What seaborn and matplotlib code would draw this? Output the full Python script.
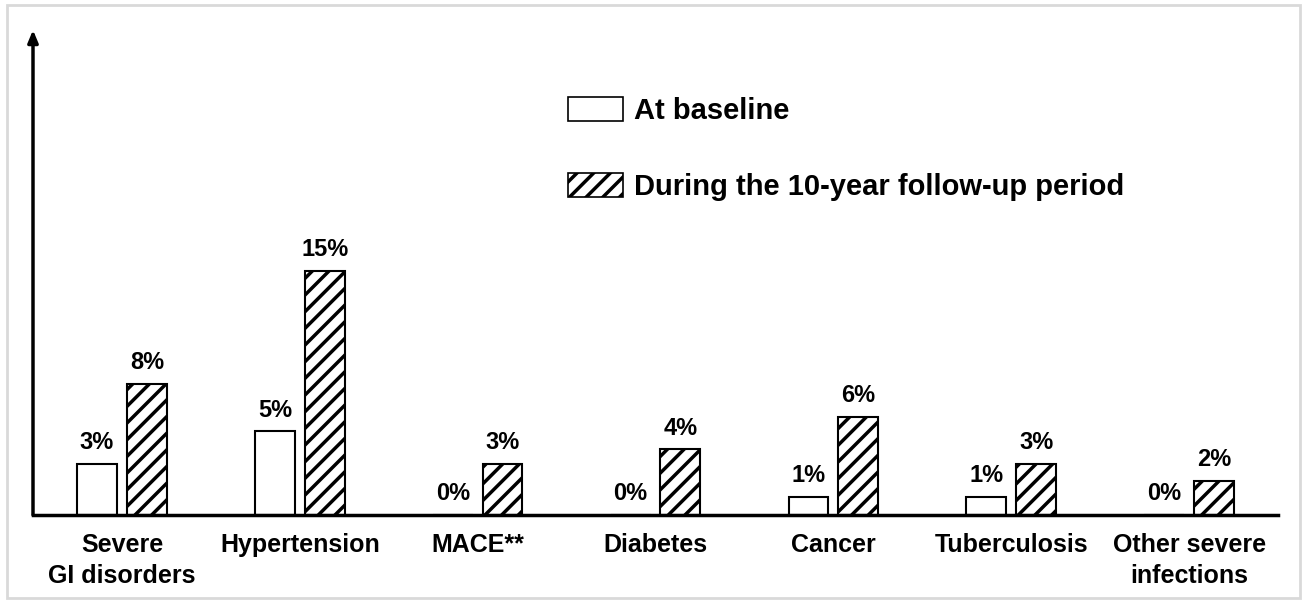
import matplotlib
matplotlib.use("Agg")
import matplotlib.pyplot as plt
from matplotlib.patches import Patch, Rectangle
import pandas as pd
import seaborn as sns


CATEGORIES = [
    "Severe\nGI disorders",
    "Hypertension",
    "MACE**",
    "Diabetes",
    "Cancer",
    "Tuberculosis",
    "Other severe\ninfections",
]
PERIODS = ["At baseline", "During the 10-year follow-up period"]
BASELINE = [3.1, 5.1, 0.0, 0.0, 1.1, 1.1, 0.0]
FOLLOW_UP = [8.0, 14.9, 3.1, 4.0, 6.0, 3.1, 2.1]

sns.set_theme(style="white")
plt.rcParams["font.family"] = ["Liberation Sans", "DejaVu Sans"]
plt.rcParams["font.weight"] = "bold"
plt.rcParams["text.color"] = "black"
plt.rcParams["xtick.color"] = "black"
plt.rcParams["xtick.labelcolor"] = "black"
plt.rcParams["hatch.linewidth"] = 2.5
plt.rcParams["hatch.color"] = "black"


def build_frame() -> pd.DataFrame:
    rows = []
    for cat, b, f in zip(CATEGORIES, BASELINE, FOLLOW_UP):
        rows.append({"category": cat, "period": PERIODS[0], "value": b})
        rows.append({"category": cat, "period": PERIODS[1], "value": f})
    return pd.DataFrame(rows)


def main() -> None:
    df = build_frame()
    fig = plt.figure(figsize=(13.11, 6.02), dpi=100)
    ax = fig.add_axes([33 / 1311, 87 / 602, 1245 / 1311, 485 / 602])

    sns.barplot(
        data=df, x="category", y="value", hue="period", order=CATEGORIES,
        hue_order=PERIODS, palette=["white", "white"], edgecolor="black",
        linewidth=1.5, width=0.56, gap=0.2, legend=False, ax=ax,
    )
    for bar in ax.containers[1]:
        bar.set_hatch("//")

    for cont in ax.containers:
        ax.bar_label(cont, labels=[f"{b.get_height():.0f}%" for b in cont],
                     padding=7, fontsize=17, fontweight="bold", color="black")

    ax.set_xlim(-0.5, 6.5)
    ax.set_ylim(0, 29.57)
    ax.set_xlabel("")
    ax.set_ylabel("")
    ax.set_yticks([])
    ax.tick_params(axis="x", length=0, pad=13, labelsize=18)
    for lab in ax.get_xticklabels():
        lab.set_fontweight("bold")
        lab.set_linespacing(1.35)
        lab.set_color("black")
    for side in ["top", "right", "left"]:
        ax.spines[side].set_visible(False)
    ax.spines["bottom"].set_color("black")
    ax.spines["bottom"].set_linewidth(2.5)
    ax.annotate(
        "", xy=(0, 1), xytext=(0, 0), xycoords="axes fraction",
        arrowprops=dict(arrowstyle="-|>,head_length=0.6,head_width=0.25",
                        color="black", lw=2.5, shrinkA=0, shrinkB=0),
    )

    handles = [
        Patch(facecolor="white", edgecolor="black", linewidth=1.2),
        Patch(facecolor="white", edgecolor="black", linewidth=1.2, hatch="//"),
    ]
    fig.legend(
        handles, PERIODS, loc="upper left", bbox_to_anchor=(568 / 1311, 1 - 97 / 602),
        frameon=False, handlelength=1.9, handleheight=0.85,
        handletextpad=0.38, labelspacing=1.65, borderpad=0, borderaxespad=0,
        prop={"weight": "bold", "size": 21}, labelcolor="black",
    )

    fig.patches.append(Rectangle((7 / 1311, 4 / 602), 1293 / 1311, 593 / 602,
                                 transform=fig.transFigure, fill=False,
                                 edgecolor="#d9d9d9", linewidth=2))
    fig.savefig("out.png", dpi=100)
    plt.close(fig)


if __name__ == "__main__":
    main()
